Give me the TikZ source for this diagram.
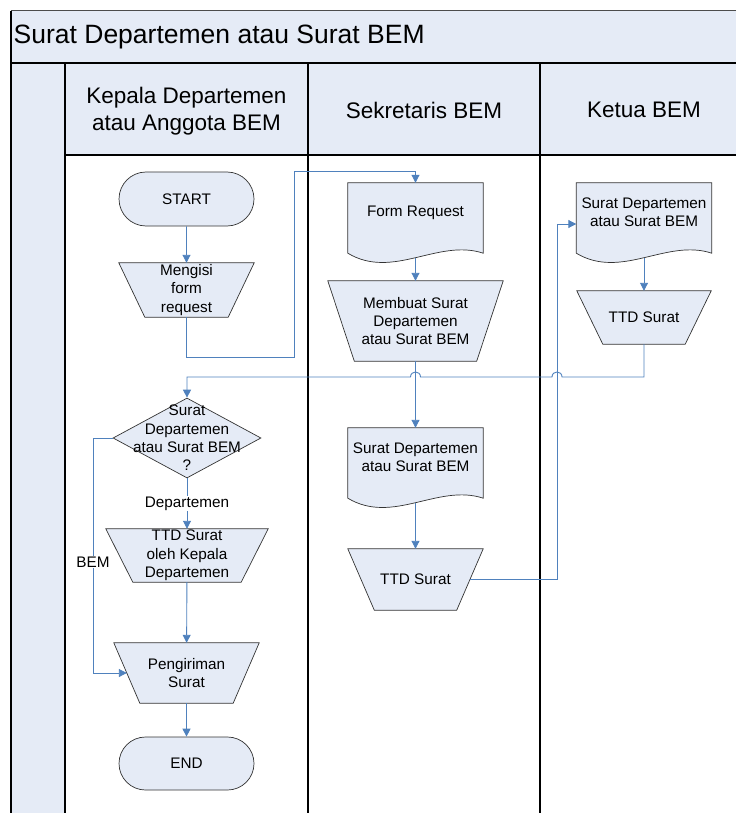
\documentclass[tikz,border=0pt]{standalone}
\usepackage{fontspec}
\setmainfont{Liberation Sans}
\usetikzlibrary{shapes.geometric,shapes.misc,arrows.meta,calc,backgrounds}

\definecolor{paleblue}{HTML}{E5EBF6}
\definecolor{flowblue}{HTML}{4F81BD}
\definecolor{edgegray}{HTML}{333333}

\tikzset{
  lane/.style={draw=black, line width=1.1pt},
  shapeline/.style={draw=edgegray, line width=0.7pt, fill=paleblue},
  txt/.style={font=\fontsize{15.3}{18.3}\selectfont, align=center},
  headtext/.style={font=\fontsize{22.5}{27}\selectfont, align=center, inner sep=0pt},
  titletext/.style={font=\fontsize{26.5}{30}\selectfont, inner sep=2.5pt},
  terminal/.style={rounded rectangle, shapeline, txt, minimum width=135pt, minimum height=54pt, inner sep=0pt},
  manual/.style={rectangle, txt, inner sep=0pt},
  docbody/.style={rectangle, minimum width=135pt, minimum height=70pt, inner sep=0pt},
  decision/.style={diamond, shapeline, minimum width=148pt, minimum height=80pt, inner sep=0pt},
  conn/.style={draw=flowblue, line width=0.9pt},
  arr/.style={conn, -{Triangle[width=8pt,length=8pt]}},
  flowlabel/.style={txt, fill=white, inner sep=1pt},
}

\begin{document}
\begin{tikzpicture}[x=1pt, y=-1pt]
\useasboundingbox (0,0) rectangle (736,813);

% pool: title band, side strip and lane headers
\fill[paleblue] (11,11) rectangle (736,63);
\fill[paleblue] (11,63) rectangle (65,813);
\fill[paleblue] (65,63) rectangle (736,155);
\draw[draw=black!70, line width=1pt] (736,11) -- (11,11);
\draw[lane] (11,11) -- (11,813);
\draw[lane] (11,63) -- (736,63);
\draw[lane] (65,155) -- (736,155);
\draw[lane] (65,63) -- (65,813);
\draw[lane] (308,63) -- (308,813);
\draw[lane] (540,63) -- (540,813);

\node[titletext, anchor=west] (title) at (11,37) {Surat Departemen atau Surat BEM};
\node[headtext] (h1) at (186.5,111) {Kepala Departemen\\atau Anggota BEM};
\node[headtext] (h2) at (424,110) {Sekretaris BEM};
\node[headtext] (h3) at (644,110) {Ketua BEM};

% lane 1: Kepala Departemen atau Anggota BEM
\node[terminal] (start) at (186.5,199) {START};
\node[manual, minimum width=135pt, minimum height=54pt] (meng) at (186.5,290) {Mengisi\\form\\request};
\node[decision] (dia) at (187,438) {};
\node[txt, inner sep=0pt] (diatext) at (dia.center) {Surat\\Departemen\\atau Surat BEM\\?};
\node[manual, minimum width=162pt, minimum height=53pt] (ttd1) at (187,555.5) {TTD Surat\\oleh Kepala\\Departemen};
\node[manual, minimum width=145pt, minimum height=60pt] (pg) at (186.5,673) {Pengiriman\\Surat};
\node[terminal, minimum height=53pt] (end) at (186.5,763.5) {END};

% lane 2: Sekretaris BEM
\node[docbody, label={[txt, yshift=5.5pt]center:{Form Request}}] (fr) at (415.5,218) {};
\node[manual, minimum width=175pt, minimum height=80pt] (memb) at (415.5,321) {Membuat Surat\\Departemen\\atau Surat BEM};
\node[docbody, label={[txt, yshift=5.5pt]center:{Surat Departemen\\atau Surat BEM}}] (sd) at (415.5,463) {};
\node[manual, minimum width=135pt, minimum height=61pt] (ttd2) at (415.5,579.5) {TTD Surat};

% lane 3: Ketua BEM
\node[docbody, label={[txt, yshift=5.5pt]center:{Surat Departemen\\atau Surat BEM}}] (kd) at (644,218) {};
\node[manual, minimum width=134pt, minimum height=53pt] (kttd) at (644,317.5) {TTD Surat};

% outlines: documents with a wavy lower edge, manual operations narrowing downwards
\begin{scope}[on background layer]
\foreach \docname in {fr,sd,kd}
  \draw[shapeline] (\docname.north west) -- (\docname.north east) -- (\docname.south east)
    .. controls +(-45,-15) and +(45,27) .. (\docname.south west) -- cycle;
\foreach \opname/\inset in {meng/26, ttd1/27, pg/26, memb/26.5, ttd2/26.5, kttd/26}
  \draw[shapeline] (\opname.north west) -- (\opname.north east)
    -- ($(\opname.south east)+(-\inset,0)$) -- ($(\opname.south west)+(\inset,0)$) -- cycle;
\end{scope}

% routing points
\coordinate (r1) at (294,357);
\coordinate (r2) at (294,171);
\coordinate (r3) at (557,224);
\coordinate (hy) at (0,377);
\coordinate (l1) at (93,0);
\coordinate (hopA) at (r3 |- hy);
\coordinate (hopB) at (memb.south |- hy);
\coordinate (ttd2side) at ($(ttd2.east)+(-13.25,0)$);
\coordinate (pgside) at ($(pg.west)+(13,0)$);

% connectors
\draw[arr] (start) -- (meng);
\draw[arr] (meng.south) |- (r1) -- (r2) -| (fr.north);
\draw[arr] ($(fr.south)+(0,4.5)$) -- (memb.north);
\draw[arr] (memb.south) -- (sd.north);
\draw[arr] ($(sd.south)+(0,4.5)$) -- (ttd2.north);
\draw[arr] (ttd2side) -| (r3) -- (r3 -| kd.west);
\draw[arr] ($(kd.south)+(0,4.5)$) -- (kttd.north);
\draw[arr] (kttd.south) -- (kttd.south |- hy) -- ($(hopA)+(5,0)$)
  .. controls +(0,-6.7) and +(0,-6.7) .. ($(hopA)+(-5,0)$) -- ($(hopB)+(5,0)$)
  .. controls +(0,-6.7) and +(0,-6.7) .. ($(hopB)+(-5,0)$) -- (dia.north |- hy) -- (dia.north);
\draw[arr] (dia.south) -- node[flowlabel] (lbldep) {Departemen} (ttd1.north);
\draw[arr] (dia.west) -- (dia.west -| l1) |- node[flowlabel, pos=0.264] (lblbem) {BEM} (pgside);
\draw[arr] (ttd1) -- (pg);
\draw[arr] (pg) -- (end);
\end{tikzpicture}
\end{document}
